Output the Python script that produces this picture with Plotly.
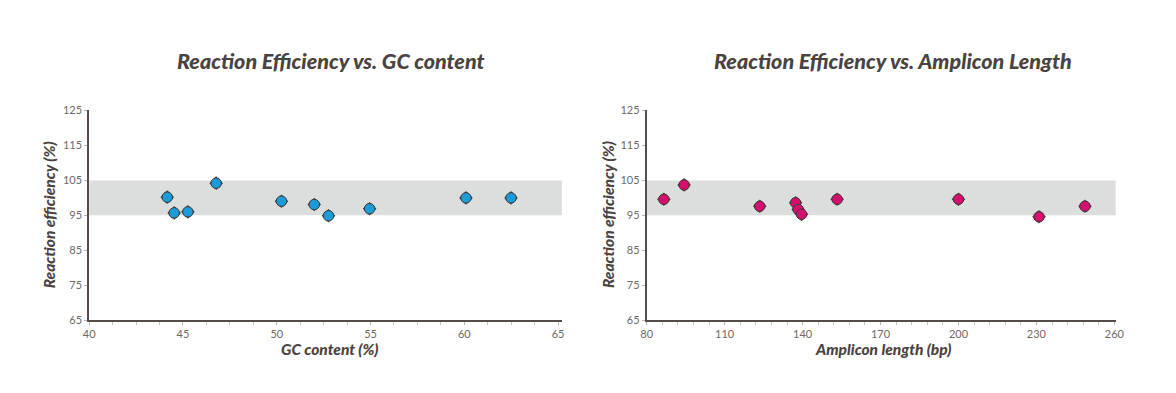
import plotly.graph_objects as go

W, H = 1176, 393

# Data: GC content vs reaction efficiency
gc_content = [44.16, 44.53, 45.26, 46.77, 50.25, 52.0, 52.76, 54.95, 60.09, 62.49]
gc_eff = [100.2, 95.7, 96.0, 104.2, 99.05, 98.1, 94.9, 96.9, 100.0, 100.0]

# Data: Amplicon length vs reaction efficiency
amp_len = [86.6, 94.4, 123.5, 137.3, 138.3, 139.6, 153.3, 200.0, 231.0, 248.7]
amp_eff = [99.6, 103.7, 97.6, 98.6, 96.7, 95.3, 99.6, 99.6, 94.6, 97.6]

y_ticks = [65, 75, 85, 95, 105, 115, 125]
gc_ticks = [40, 45, 50, 55, 60, 65]
amp_ticks = [80, 110, 140, 170, 200, 230, 260]
band_low, band_high = 95, 105

titles = ["Reaction Efficiency vs. GC content", "Reaction Efficiency vs. Amplicon Length"]
x_titles = ["GC content (%)", "Amplicon length (bp)"]
y_title = "Reaction efficiency (%)"

BLUE = "#1b9bd7"
PINK = "#d3106e"
AXIS = "#564d4a"
TICKC = "#6f6866"
TITLEC = "#4a4341"
FONT = "Lato"

def px(x):
    return x / W

def py(y):
    return 1 - y / H

fig = go.Figure()

y_top, y_bot = 107, 324
left_dom = [px(84.3), px(563)]
right_dom = [px(649), px(1124)]

for xs, ys, col, xa, ya in [(gc_content, gc_eff, BLUE, "x", "y"), (amp_len, amp_eff, PINK, "x2", "y2")]:
    fig.add_trace(go.Scatter(x=xs, y=ys, mode="markers", xaxis=xa, yaxis=ya,
                             marker=dict(symbol="diamond", size=10.5, color="#4e4745",
                                         line=dict(width=0)),
                             showlegend=False, hoverinfo="skip"))
    fig.add_trace(go.Scatter(x=xs, y=ys, mode="markers", xaxis=xa, yaxis=ya,
                             marker=dict(symbol="circle", size=10.5, color=col,
                                         line=dict(width=1, color="#3d3735")),
                             showlegend=False))

common_y = dict(range=[65, 125], tickvals=y_ticks, showgrid=False, zeroline=False,
                showline=True, linecolor=AXIS, linewidth=2, ticks="outside", ticklen=3,
                tickcolor="#b9b4b2", tickwidth=1,
                tickfont=dict(family=FONT, size=11, color=TICKC),
                domain=[py(y_bot), py(y_top)])

common_x = dict(showgrid=False, zeroline=False, showline=True, linecolor=AXIS, linewidth=2,
                ticks="outside", ticklen=3, tickcolor="#b9b4b2", tickwidth=1,
                tickfont=dict(family=FONT, size=11, color=TICKC))

fig.update_layout(
    width=W, height=H,
    margin=dict(l=0, r=0, t=0, b=0),
    paper_bgcolor="white", plot_bgcolor="white",
    xaxis=dict(range=[40, 65.2], tickvals=gc_ticks, domain=left_dom, anchor="y",
               minor=dict(dtick=1.25, tick0=40, ticks="outside", ticklen=3, tickcolor="#c9c5c3"),
               **common_x),
    yaxis=dict(anchor="x", **common_y),
    xaxis2=dict(range=[80, 260.5], tickvals=amp_ticks, domain=right_dom, anchor="y2",
                minor=dict(dtick=6, tick0=80, ticks="outside", ticklen=3, tickcolor="#c9c5c3"),
                **common_x),
    yaxis2=dict(anchor="x2", **common_y),
)

for xref, yref in [("x domain", "y"), ("x2 domain", "y2")]:
    fig.add_shape(type="rect", xref=xref, yref=yref, x0=0, x1=1, y0=band_low, y1=band_high,
                  fillcolor="#dcdedd", line=dict(width=0), layer="below")

ann_font_title = dict(family=FONT, size=21.5, color=TITLEC, weight=900, style="italic")
ann_font_axis = dict(family=FONT, size=15.5, color=TITLEC, weight=900, style="italic")

for t, cx in zip(titles, [329, 898]):
    fig.add_annotation(text=t, x=px(cx), y=py(56), xref="paper", yref="paper",
                       showarrow=False, font=ann_font_title, xanchor="center", yanchor="middle")
for t, cx in zip(x_titles, [328, 888]):
    fig.add_annotation(text=t, x=px(cx), y=py(354), xref="paper", yref="paper",
                       showarrow=False, font=ann_font_axis, xanchor="center", yanchor="middle")
for cx in [43, 610]:
    fig.add_annotation(text=y_title, x=px(cx), y=py(215), xref="paper", yref="paper",
                       showarrow=False, font=ann_font_axis, textangle=-90,
                       xanchor="center", yanchor="middle")

fig.write_html("out.html", config={"displayModeBar": False},
               post_script="document.body.style.margin='0';document.body.style.overflow='hidden';")
